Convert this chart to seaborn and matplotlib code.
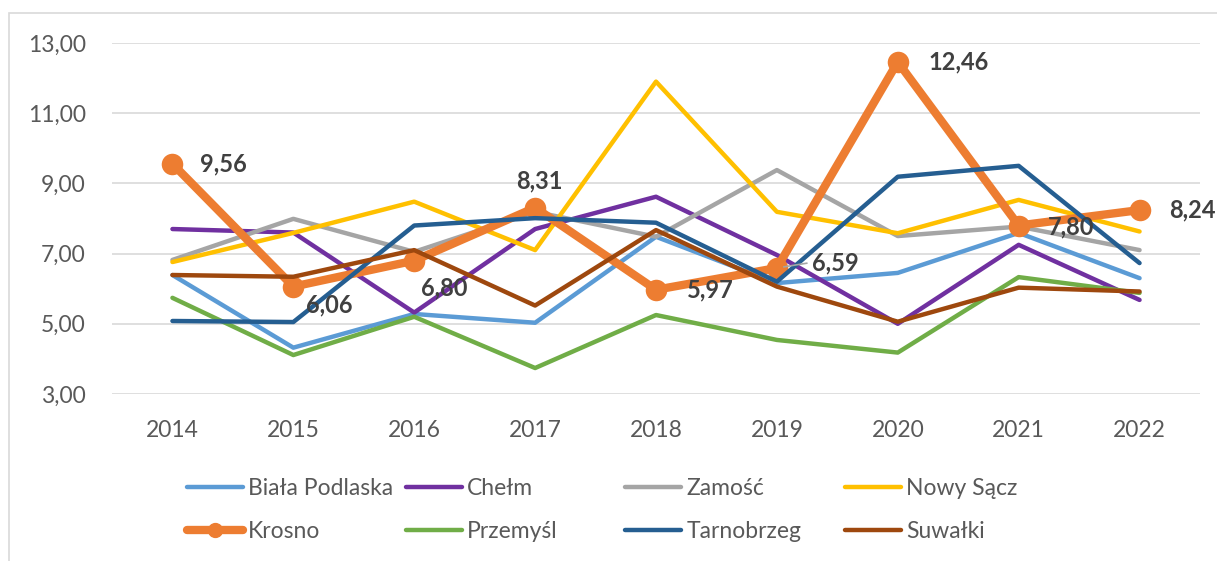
import matplotlib
matplotlib.use("Agg")
import matplotlib.pyplot as plt
import matplotlib.ticker as mticker
from matplotlib.lines import Line2D
from matplotlib.patches import Rectangle
import seaborn as sns

# data
lata = [2014, 2015, 2016, 2017, 2018, 2019, 2020, 2021, 2022]
biala_podlaska = [6.39, 4.32, 5.28, 5.03, 7.48, 6.16, 6.45, 7.59, 6.30]
chelm = [7.70, 7.60, 5.32, 7.70, 8.62, 6.96, 5.00, 7.25, 5.68]
zamosc = [6.82, 7.99, 7.05, 8.19, 7.48, 9.38, 7.50, 7.77, 7.10]
nowy_sacz = [6.76, 7.59, 8.48, 7.10, 11.90, 8.19, 7.58, 8.53, 7.63]
krosno = [9.56, 6.06, 6.80, 8.31, 5.97, 6.59, 12.46, 7.80, 8.24]
przemysl = [5.74, 4.11, 5.20, 3.74, 5.25, 4.54, 4.18, 6.33, 5.88]
tarnobrzeg = [5.08, 5.05, 7.80, 8.01, 7.88, 6.20, 9.19, 9.50, 6.73]
suwalki = [6.39, 6.34, 7.10, 5.52, 7.67, 6.06, 5.06, 6.03, 5.92]

nazwy = ["Biała Podlaska", "Chełm", "Zamość", "Nowy Sącz",
         "Krosno", "Przemyśl", "Tarnobrzeg", "Suwałki"]
serie = [biala_podlaska, chelm, zamosc, nowy_sacz,
         krosno, przemysl, tarnobrzeg, suwalki]
kolory = ["#5B9BD5", "#7030A0", "#A5A5A5", "#FFC000",
          "#ED7D31", "#70AD47", "#255E91", "#9E480E"]

# label offsets (points) for the Krosno values
offsety = [(20, 0), (9, -13), (5, -20), (3, 19), (22, 0),
           (25, 4), (22, 0), (21, -1), (21, 0)]

W, H = 1217, 561
sns.set_theme(style="white")
plt.rcParams['font.family'] = ['Lato', 'DejaVu Sans']

fig = plt.figure(figsize=(W / 100, H / 100), dpi=100)
ax = fig.add_axes([112 / W, 1 - 394 / H, (1200 - 112) / W, (394 - 43) / H])

for nazwa, wartosci, kolor in zip(nazwy, serie, kolory):
    if nazwa == "Krosno":
        sns.lineplot(x=lata, y=wartosci, color=kolor, lw=6, marker="o",
                     markersize=15.5, markeredgewidth=0, ax=ax, label=nazwa,
                     solid_capstyle="round", solid_joinstyle="round")
    else:
        sns.lineplot(x=lata, y=wartosci, color=kolor, lw=3.2, ax=ax, label=nazwa,
                     solid_capstyle="round", solid_joinstyle="round")

for i, (rok, v) in enumerate(zip(lata, krosno)):
    dx, dy = offsety[i]
    tekst = f"{v:.2f}".replace(".", ",")
    ha = "center" if i == 3 else "left"
    arrow = None
    if i == 5:
        arrow = dict(arrowstyle="-", color="#A5A5A5", lw=1.2,
                     shrinkA=1, shrinkB=5, relpos=(0, 0.5))
    ax.annotate(tekst, (rok, v), xytext=(dx, dy), textcoords="offset points",
                ha=ha, va="center", fontsize=17, fontweight="bold",
                color="#404040", arrowprops=arrow, zorder=10)

ax.set_xlim(2013.5, 2022.5)
ax.set_ylim(3, 13)
ax.set_yticks([3, 5, 7, 9, 11, 13])
ax.set_xticks(lata)
ax.yaxis.set_major_formatter(mticker.FuncFormatter(lambda v, p: f"{v:.2f}".replace(".", ",")))
ax.grid(axis="y", color="#D9D9D9", lw=1.2)
ax.grid(axis="x", visible=False)
ax.set_axisbelow(True)
for s in ax.spines.values():
    s.set_visible(False)
ax.tick_params(axis="y", length=0, pad=19, labelsize=16.5, labelcolor="#595959")
ax.tick_params(axis="x", length=0, pad=19, labelsize=16.5, labelcolor="#595959")
ax.set_xlabel("")
ax.set_ylabel("")

# legend: 4 columns of 2 rows
ax.get_legend().remove()
uchwyty = {}
for nazwa, kolor in zip(nazwy, kolory):
    if nazwa == "Krosno":
        uchwyty[nazwa] = Line2D([], [], color=kolor, lw=6, marker="o", markersize=10,
                                solid_capstyle="round")
    else:
        uchwyty[nazwa] = Line2D([], [], color=kolor, lw=3.2, solid_capstyle="round")

kolumny = [("Biała Podlaska", "Krosno"), ("Chełm", "Przemyśl"),
           ("Zamość", "Tarnobrzeg"), ("Nowy Sącz", "Suwałki")]
start_x = [187, 406, 625, 845]
for (a, b), x0 in zip(kolumny, start_x):
    fig.legend([uchwyty[a], uchwyty[b]], [a, b], loc="center left",
               bbox_to_anchor=(x0 / W, 1 - 510 / H), frameon=False,
               fontsize=16.5, handlelength=2.45, handletextpad=0.22,
               labelspacing=0.95, borderpad=0, borderaxespad=0,
               labelcolor="#595959")

# chart area border
fig.add_artist(Rectangle((9 / W, -0.1), 1.2, 1.1 - 13 / H, transform=fig.transFigure,
                         fill=False, ec="#D9D9D9", lw=1.2))

fig.savefig("out.png", dpi=100)
